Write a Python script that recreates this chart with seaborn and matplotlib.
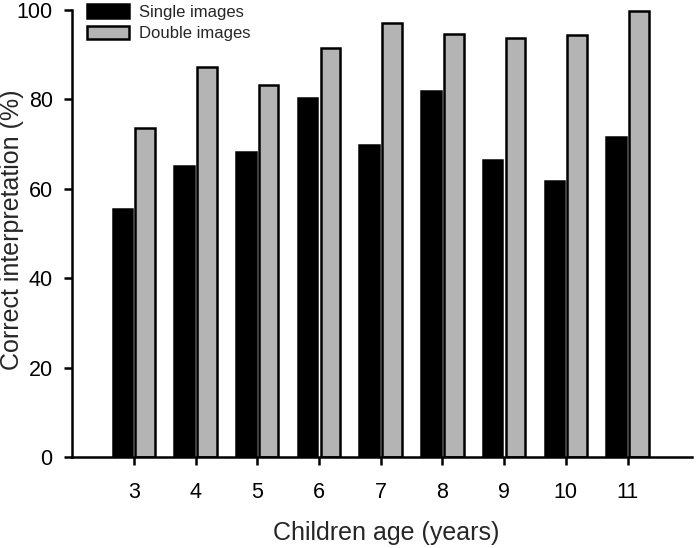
"""Correct interpretation by children age, single vs double images."""

import matplotlib

matplotlib.use("Agg")

import matplotlib.pyplot as plt
import pandas as pd
import seaborn as sns

ages = [3, 4, 5, 6, 7, 8, 9, 10, 11]
single_images = [55.5, 65.1, 68.3, 80.4, 69.7, 81.8, 66.4, 61.8, 71.6]
double_images = [73.6, 87.2, 83.2, 91.4, 97.1, 94.5, 93.7, 94.4, 99.8]
series_names = ["Single images", "Double images"]
y_ticks = [0, 20, 40, 60, 80, 100]

df = pd.DataFrame(
    {
        "age": [str(a) for a in ages] * 2,
        "value": single_images + double_images,
        "series": [series_names[0]] * len(ages) + [series_names[1]] * len(ages),
    }
)

sns.set_style("ticks")
plt.rcParams["font.family"] = ["Liberation Sans", "DejaVu Sans"]

fig = plt.figure(figsize=(7.0, 5.48), dpi=100)
ax = fig.add_axes([0.103, 0.166, 0.886, 0.816])

sns.barplot(
    data=df,
    x="age",
    y="value",
    hue="series",
    palette={series_names[0]: "#000000", series_names[1]: "#b4b4b4"},
    width=0.74,
    gap=0.14,
    edgecolor="black",
    linewidth=1.8,
    ax=ax,
)

ax.set_xlim(-1, 9.05)
ax.set_ylim(0, 100)
ax.set_yticks(y_ticks)
ax.set_xlabel("Children age (years)", fontsize=18, va="center")
ax.set_ylabel("Correct interpretation (%)", fontsize=18, va="center")
ax.xaxis.set_label_coords(0.507, -0.17)
ax.yaxis.set_label_coords(-0.097, 0.508)
ax.tick_params(axis="both", labelsize=15.5, length=6, width=1.8, direction="out", colors="black")
ax.tick_params(axis="x", pad=12)
ax.tick_params(axis="y", pad=8)
for side in ["left", "bottom"]:
    ax.spines[side].set_linewidth(1.8)
    ax.spines[side].set_color("black")
sns.despine(ax=ax)

ax.legend(
    loc="upper left",
    bbox_to_anchor=(0.024, 1.012),
    frameon=False,
    fontsize=12,
    handlelength=2.5,
    handleheight=0.85,
    handletextpad=0.6,
    labelspacing=0.35,
    borderaxespad=0,
    borderpad=0,
)

fig.savefig("out.png", dpi=100)
plt.close(fig)
